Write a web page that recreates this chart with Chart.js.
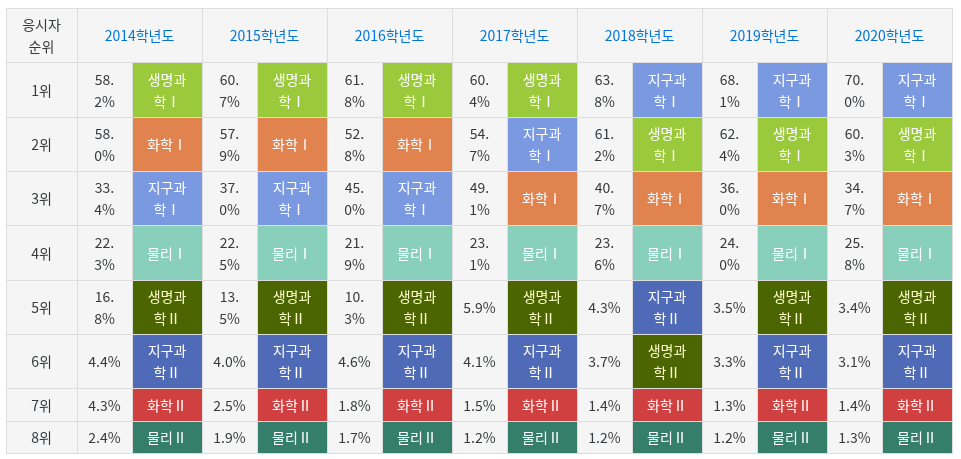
<!DOCTYPE html>
<html>
<head>
<meta charset="utf-8">
<script src="https://cdn.jsdelivr.net/npm/chart.js@4.4.1/dist/chart.umd.min.js"></script>
<style>
  html, body { margin: 0; padding: 0; background: #fff; }
  #wrap { width: 961px; height: 459px; }
</style>
</head>
<body>
<div id="wrap"><canvas id="tabela"></canvas></div>
<script>
// ---- dados ----
var rankHeader = '응시자 순위';
var years = ['2014학년도', '2015학년도', '2016학년도', '2017학년도', '2018학년도', '2019학년도', '2020학년도'];
var ranks = ['1위', '2위', '3위', '4위', '5위', '6위', '7위', '8위'];

var subjects2014 = ['생명과학Ⅰ', '화학Ⅰ', '지구과학Ⅰ', '물리Ⅰ', '생명과학Ⅱ', '지구과학Ⅱ', '화학Ⅱ', '물리Ⅱ'];
var rates2014 = [58.2, 58.0, 33.4, 22.3, 16.8, 4.4, 4.3, 2.4];
var subjects2015 = ['생명과학Ⅰ', '화학Ⅰ', '지구과학Ⅰ', '물리Ⅰ', '생명과학Ⅱ', '지구과학Ⅱ', '화학Ⅱ', '물리Ⅱ'];
var rates2015 = [60.7, 57.9, 37.0, 22.5, 13.5, 4.0, 2.5, 1.9];
var subjects2016 = ['생명과학Ⅰ', '화학Ⅰ', '지구과학Ⅰ', '물리Ⅰ', '생명과학Ⅱ', '지구과학Ⅱ', '화학Ⅱ', '물리Ⅱ'];
var rates2016 = [61.8, 52.8, 45.0, 21.9, 10.3, 4.6, 1.8, 1.7];
var subjects2017 = ['생명과학Ⅰ', '지구과학Ⅰ', '화학Ⅰ', '물리Ⅰ', '생명과학Ⅱ', '지구과학Ⅱ', '화학Ⅱ', '물리Ⅱ'];
var rates2017 = [60.4, 54.7, 49.1, 23.1, 5.9, 4.1, 1.5, 1.2];
var subjects2018 = ['지구과학Ⅰ', '생명과학Ⅰ', '화학Ⅰ', '물리Ⅰ', '지구과학Ⅱ', '생명과학Ⅱ', '화학Ⅱ', '물리Ⅱ'];
var rates2018 = [63.8, 61.2, 40.7, 23.6, 4.3, 3.7, 1.4, 1.2];
var subjects2019 = ['지구과학Ⅰ', '생명과학Ⅰ', '화학Ⅰ', '물리Ⅰ', '생명과학Ⅱ', '지구과학Ⅱ', '화학Ⅱ', '물리Ⅱ'];
var rates2019 = [68.1, 62.4, 36.0, 24.0, 3.5, 3.3, 1.3, 1.2];
var subjects2020 = ['지구과학Ⅰ', '생명과학Ⅰ', '화학Ⅰ', '물리Ⅰ', '생명과학Ⅱ', '지구과학Ⅱ', '화학Ⅱ', '물리Ⅱ'];
var rates2020 = [70.0, 60.3, 34.7, 25.8, 3.4, 3.1, 1.4, 1.3];

var subjectsByYear = [subjects2014, subjects2015, subjects2016, subjects2017, subjects2018, subjects2019, subjects2020];
var ratesByYear = [rates2014, rates2015, rates2016, rates2017, rates2018, rates2019, rates2020];

// ---- estilo ----
var corMateria = {
  '생명과학Ⅰ': '#9aca3c',
  '화학Ⅰ': '#e0834f',
  '지구과학Ⅰ': '#7b99e0',
  '물리Ⅰ': '#88d0bb',
  '생명과학Ⅱ': '#4b6500',
  '지구과학Ⅱ': '#4f6ab7',
  '화학Ⅱ': '#d04040',
  '물리Ⅱ': '#357f6a'
};
var corTextoMateria = { '생명과학Ⅱ': '#ffffcc' };
var fundo = '#f5f5f5';
var borda = '#dddddd';
var corTexto = '#373a3c';
var corAno = '#0275d8';
var fonte = '14px "Noto Sans CJK KR", "Noto Sans", sans-serif';
var alturaLinha = 22;
var padX = 10;

// larguras/alturas das celulas em unidades da escala
var largRank = 71, largPct = 55, largMat = 70;
var altCab = 54;
var altLinhas = [55, 54, 54, 55, 54, 54, 33, 32];

var totalW = largRank + years.length * (largPct + largMat);
var totalH = altCab + altLinhas.reduce(function (a, b) { return a + b; }, 0);

function quebra(ctx, texto, maxW) {
  var linhas = [];
  var cur = '';
  for (var i = 0; i < texto.length; i++) {
    var ch = texto[i];
    if (cur.trim() && ch !== ' ' && ctx.measureText(cur + ch).width > maxW) {
      if (/[%ⅠⅡ]/.test(ch) && cur.length > 1) {
        // nao quebra antes de % ou numeral romano
        linhas.push(cur.slice(0, -1).trim());
        cur = cur.slice(-1) + ch;
      } else {
        linhas.push(cur.trim());
        cur = ch;
      }
    } else {
      cur += ch;
    }
  }
  if (cur.trim()) linhas.push(cur.trim());
  return linhas;
}

var tabelaPlugin = {
  id: 'tabela',
  afterDraw: function (chart) {
    var ctx = chart.ctx;
    var sx = chart.scales.x, sy = chart.scales.y;
    var cells = [];

    function addCell(x0, x1, y0, y1, fill, text, color) {
      cells.push({ x0: x0, x1: x1, y0: y0, y1: y1, fill: fill, text: text, color: color });
    }

    // cabecalho
    addCell(0, largRank, 0, altCab, fundo, rankHeader, corTexto);
    years.forEach(function (ano, i) {
      var x0 = largRank + i * (largPct + largMat);
      addCell(x0, x0 + largPct + largMat, 0, altCab, fundo, ano, corAno);
    });

    // linhas
    var y0 = altCab;
    ranks.forEach(function (r, j) {
      var y1 = y0 + altLinhas[j];
      addCell(0, largRank, y0, y1, fundo, r, corTexto);
      years.forEach(function (ano, i) {
        var x0 = largRank + i * (largPct + largMat);
        var mat = subjectsByYear[i][j];
        addCell(x0, x0 + largPct, y0, y1, fundo, ratesByYear[i][j].toFixed(1) + '%', corTexto);
        addCell(x0 + largPct, x0 + largPct + largMat, y0, y1, corMateria[mat], mat, corTextoMateria[mat] || '#ffffff');
      });
      y0 = y1;
    });

    ctx.save();
    ctx.font = fonte;
    ctx.textAlign = 'center';
    ctx.textBaseline = 'middle';
    cells.forEach(function (c) {
      var px0 = Math.round(sx.getPixelForValue(c.x0));
      var px1 = Math.round(sx.getPixelForValue(c.x1));
      var py0 = Math.round(sy.getPixelForValue(c.y0));
      var py1 = Math.round(sy.getPixelForValue(c.y1));
      ctx.fillStyle = c.fill;
      ctx.fillRect(px0, py0, px1 - px0, py1 - py0);
      var linhas = quebra(ctx, c.text, px1 - px0 - 2 * padX);
      var cx = (px0 + px1) / 2;
      var cy = (py0 + py1) / 2 + 1;
      ctx.fillStyle = c.color;
      linhas.forEach(function (l, k) {
        ctx.fillText(l, cx, cy + (k - (linhas.length - 1) / 2) * alturaLinha);
      });
    });
    ctx.strokeStyle = borda;
    ctx.lineWidth = 1;
    cells.forEach(function (c) {
      var px0 = Math.round(sx.getPixelForValue(c.x0));
      var px1 = Math.round(sx.getPixelForValue(c.x1));
      var py0 = Math.round(sy.getPixelForValue(c.y0));
      var py1 = Math.round(sy.getPixelForValue(c.y1));
      ctx.strokeRect(px0 + 0.5, py0 + 0.5, px1 - px0, py1 - py0);
    });
    ctx.restore();
  }
};

var ctx = document.getElementById('tabela');
var myChart = new Chart(ctx, {
  type: 'scatter',
  data: { datasets: [{ data: [] }] },
  options: {
    responsive: true,
    maintainAspectRatio: false,
    animation: false,
    layout: { padding: { left: 6, top: 8, right: 9, bottom: 6 } },
    plugins: { legend: { display: false }, tooltip: { enabled: false } },
    scales: {
      x: { type: 'linear', display: false, min: 0, max: totalW },
      y: { type: 'linear', display: false, min: 0, max: totalH, reverse: true }
    }
  },
  plugins: [tabelaPlugin]
});
</script>
</body>
</html>
